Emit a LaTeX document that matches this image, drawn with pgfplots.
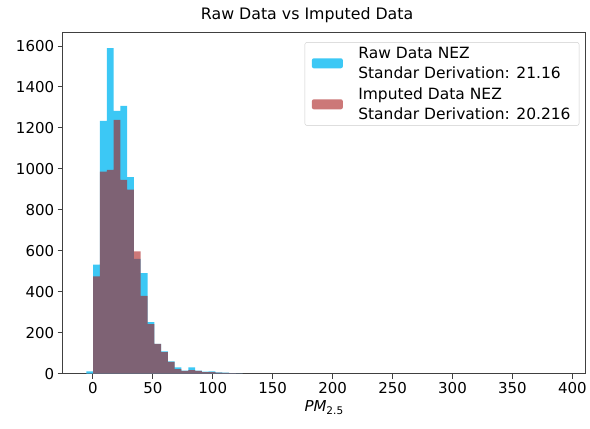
\documentclass[border=0pt]{standalone}
\usepackage{pgfplots}
\pgfplotsset{compat=1.18}
\usepackage{fontspec}
\setmainfont{DejaVu Sans}
\definecolor{rawc}{RGB}{60,200,245}
\definecolor{impc}{RGB}{170,30,30}
\begin{document}
\begin{tikzpicture}[font=\fontsize{15}{18}\selectfont]
\begin{axis}[
  scale only axis,
  width=523.3pt, height=342pt,
  xmin=-25.2, xmax=411, ymin=0, ymax=1668,
  xtick={0,50,...,400}, ytick={0,200,...,1600},
  xtick pos=bottom, ytick pos=left,
  tick align=outside, major tick length=5pt,
  tick style={black!75, line width=0.8pt},
  axis line style={black!75, line width=0.8pt},
  /pgf/number format/assume math mode=true,
  /pgf/number format/1000 sep={},
  title={Raw Data vs Imputed Data},
  title style={font=\fontsize{15.8}{18}\selectfont, xshift=-17pt},
  xlabel={\textit{PM}\textsubscript{2.5}},
  legend style={at={(0.988,0.97)}, anchor=north east, draw=black!20, rounded corners=2pt,
    inner xsep=7pt, inner ysep=3pt,
    nodes={align=left, inner sep=1.5pt}, row sep=5pt,
    font=\fontsize{15.5}{20}\selectfont,
    /tikz/every odd column/.append style={column sep=14pt}},
  legend cell align=left,
  legend image code/.code={\fill[#1] (0pt,-5pt) rectangle (31pt,5pt);},
]
\addplot[ybar interval, fill=rawc, draw=none] coordinates {
(-5.40,12) (0.27,532) (5.93,1234) (11.60,1589) (17.26,1283) (22.93,1307)
(28.60,959) (34.26,560) (39.93,491) (45.59,252) (51.26,146) (56.93,109)
(62.59,60) (68.26,31) (73.92,15) (79.59,31) (85.26,15) (90.92,10)
(96.59,12) (102.25,6) (107.92,5) (113.59,3) (119.25,2) (124.92,0)
};
\addlegendentry{Raw Data NEZ\\Standar Derivation: 21.16}
\addplot[ybar interval, fill=impc, fill opacity=0.6, draw=none] coordinates {
(-5.40,0) (0.27,475) (5.93,987) (11.60,995) (17.26,1239) (22.93,946)
(28.60,898) (34.26,597) (39.93,380) (45.59,242) (51.26,146) (56.93,105)
(62.59,58) (68.26,22) (73.92,14) (79.59,17) (85.26,14) (90.92,8)
(96.59,8) (102.25,5) (107.92,4) (113.59,3) (119.25,2) (124.92,0)
};
\addlegendentry{Imputed Data NEZ\\Standar Derivation: 20.216}
\end{axis}
\path ([shift={(-62.7pt,-55pt)}]current axis.south west) rectangle ([shift={(4pt,32pt)}]current axis.north east);
\end{tikzpicture}
\end{document}
